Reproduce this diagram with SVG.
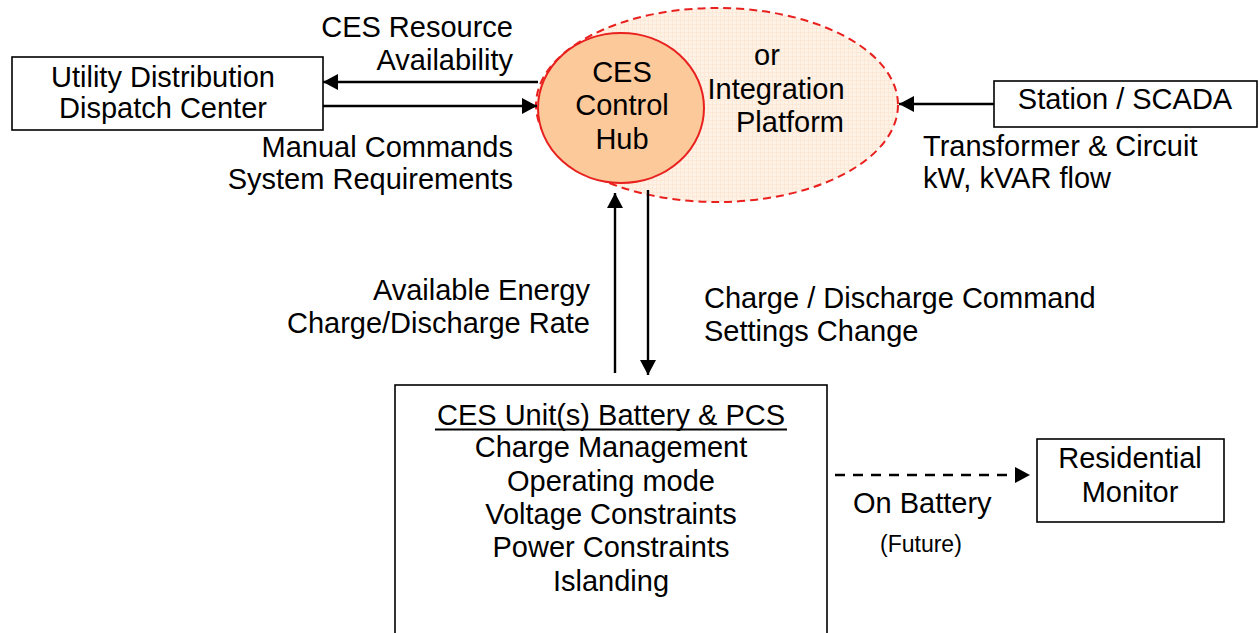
<svg xmlns="http://www.w3.org/2000/svg" width="1259" height="633" viewBox="0 0 1259 633">
<style>
text{font-family:"Liberation Sans",Arial,Helvetica,sans-serif;font-size:29px;fill:#000}
.c{text-anchor:middle}
.r{text-anchor:end}
.box{fill:#fff;stroke:#000;stroke-width:1.6}
.conn{stroke:#000;stroke-width:2.4;fill:none}
</style>
<defs>
<marker id="ah" markerUnits="userSpaceOnUse" markerWidth="18" markerHeight="18" refX="15" refY="8" orient="auto">
<path d="M0,0 L15,8 L0,16 z" fill="#000"/>
</marker>
<pattern id="dots" patternUnits="userSpaceOnUse" width="4" height="4">
<rect width="4" height="4" fill="#fef1e5"/>
<path d="M0,0.5H4M0.5,0V4" stroke="#fce4d0" stroke-width="0.6"/>
</pattern>
</defs>

<g id="platform">
<ellipse cx="717" cy="105" rx="181" ry="97" fill="url(#dots)" stroke="#e8201e" stroke-width="2" stroke-dasharray="8,5"/>
<text x="767" y="65" class="c">or</text>
<text x="776" y="99" class="c">Integration</text>
<text x="790" y="132" class="c">Platform</text>
</g>

<g id="hub">
<ellipse cx="621" cy="108" rx="83" ry="75" fill="#fcc99b" stroke="#e8201e" stroke-width="2"/>
<text x="622" y="82" class="c">CES</text>
<text x="622" y="115" class="c">Control</text>
<text x="622" y="149" class="c">Hub</text>
</g>

<g id="utility">
<rect x="12" y="57" width="311" height="73" class="box"/>
<text x="163" y="87" class="c">Utility Distribution</text>
<text x="163" y="118" class="c">Dispatch Center</text>
</g>

<g id="station">
<rect x="994" y="81" width="263" height="46" class="box"/>
<text x="1125" y="109" class="c">Station / SCADA</text>
</g>

<g id="ces-unit">
<rect x="395" y="385" width="432" height="260" class="box"/>
<text x="611" y="425" class="c">CES Unit(s) Battery &amp; PCS</text>
<line x1="435" y1="429.5" x2="787" y2="429.5" stroke="#000" stroke-width="2"/>
<text x="611" y="457" class="c">Charge Management</text>
<text x="611" y="491" class="c">Operating mode</text>
<text x="611" y="524" class="c">Voltage Constraints</text>
<text x="611" y="557" class="c">Power Constraints</text>
<text x="611" y="591" class="c">Islanding</text>
</g>

<g id="residential">
<rect x="1037" y="439" width="187" height="83" class="box"/>
<text x="1130" y="468" class="c">Residential</text>
<text x="1130" y="502" class="c">Monitor</text>
</g>

<g id="connectors">
<line x1="538" y1="82" x2="323" y2="82" class="conn" marker-end="url(#ah)"/>
<line x1="323" y1="106" x2="537" y2="106" class="conn" marker-end="url(#ah)"/>
<line x1="994" y1="104" x2="899" y2="104" class="conn" marker-end="url(#ah)"/>
<line x1="615" y1="373" x2="615" y2="193" class="conn" marker-end="url(#ah)"/>
<line x1="648" y1="190" x2="648" y2="375" class="conn" marker-end="url(#ah)"/>
<line x1="835" y1="475" x2="1030" y2="475" class="conn" stroke-dasharray="10,8" marker-end="url(#ah)"/>
</g>

<g id="labels">
<text x="513" y="37" class="r">CES Resource</text>
<text x="513" y="70" class="r">Availability</text>
<text x="513" y="157" class="r">Manual Commands</text>
<text x="513" y="189" class="r">System Requirements</text>
<text x="923" y="156">Transformer &amp; Circuit</text>
<text x="923" y="188">kW, kVAR flow</text>
<text x="590" y="300" class="r">Available Energy</text>
<text x="590" y="333" class="r">Charge/Discharge Rate</text>
<text x="704" y="308">Charge / Discharge Command</text>
<text x="704" y="341">Settings Change</text>
<text x="853" y="513">On Battery</text>
<text x="880" y="552" style="font-size:23px">(Future)</text>
</g>
</svg>
